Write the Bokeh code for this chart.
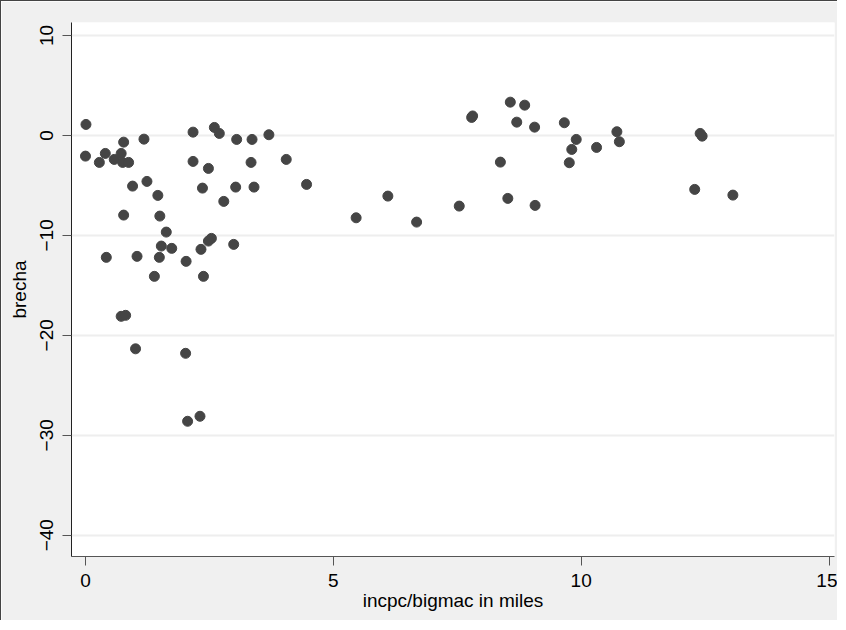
from bokeh.plotting import figure
from bokeh.models import Range1d, FixedTicker, ColumnDataSource
from bokeh.embed import file_html
from bokeh.resources import INLINE

# incpc/bigmac in miles (x) vs brecha (y)
incpc_bigmac = [0.01, 0.00, 0.28, 0.40, 0.77, 0.58, 0.72, 0.75, 0.87, 1.18,
                2.17, 2.60, 2.70, 2.17, 2.48, 0.95, 1.24, 1.46, 2.36, 0.77,
                1.50, 1.63, 1.53, 1.74, 2.54, 2.48, 2.33, 0.42, 1.04, 1.49,
                2.03, 1.39, 2.38, 0.72, 0.81, 3.05, 3.36, 3.70, 3.34, 4.05,
                3.03, 3.40, 4.46, 2.79, 2.99, 2.06, 2.31, 1.01, 2.02, 5.46,
                6.10, 6.68, 7.54, 8.37, 8.52, 7.79, 7.81, 8.57, 8.86, 8.70,
                9.06, 9.66, 9.90, 9.81, 9.76, 10.31, 10.72, 10.77, 9.07, 12.40,
                12.44, 12.29, 13.06]
brecha = [1.10, -2.07, -2.70, -1.80, -0.67, -2.40, -1.80, -2.70, -2.70, -0.37,
          0.33, 0.80, 0.20, -2.60, -3.30, -5.07, -4.60, -6.00, -5.27, -7.97,
          -8.07, -9.67, -11.07, -11.30, -10.30, -10.57, -11.40, -12.20, -12.10, -12.20,
          -12.60, -14.10, -14.10, -18.10, -18.00, -0.40, -0.40, 0.07, -2.70, -2.40,
          -5.17, -5.17, -4.90, -6.60, -10.90, -28.60, -28.10, -21.35, -21.80, -8.24,
          -6.07, -8.67, -7.07, -2.67, -6.30, 1.80, 1.95, 3.33, 3.03, 1.33,
          0.83, 1.27, -0.40, -1.40, -2.73, -1.20, 0.37, -0.63, -7.00, 0.20,
          -0.07, -5.40, -5.97]

x_ticks = [0, 5, 10, 15]
y_ticks = [-40, -30, -20, -10, 0, 10]

src = ColumnDataSource(data=dict(x=incpc_bigmac, y=brecha))

FONT = "Liberation Sans"

p = figure(width=837, height=620, output_backend="svg", toolbar_location=None,
           x_range=Range1d(-0.282, 15.11), y_range=Range1d(-42.13, 11.30),
           min_border_left=70, min_border_right=4, min_border_top=21,
           min_border_bottom=65)

p.background_fill_color = "white"
p.border_fill_color = "#f0f0f0"
p.outline_line_color = None
p.styles = {"border-top": "1px solid #444444", "border-left": "1px solid #444444"}

p.scatter("x", "y", source=src, size=10, marker="circle",
          fill_color="#454545", line_color="#454545")

p.xaxis.ticker = FixedTicker(ticks=x_ticks)
p.yaxis.ticker = FixedTicker(ticks=y_ticks)
p.xgrid.grid_line_color = None
p.ygrid.grid_line_color = "#eeeeee"
p.ygrid.grid_line_width = 2

for ax in (p.xaxis, p.yaxis):
    ax.minor_tick_line_color = None
    ax.major_tick_out = 9
    ax.major_tick_in = 0
    ax.major_tick_line_color = "#555555"
    ax.major_label_text_font = FONT
    ax.major_label_text_font_size = "19px"
    ax.major_label_text_color = "black"
    ax.axis_label_text_font = FONT
    ax.axis_label_text_font_size = "19px"
    ax.axis_label_text_font_style = "normal"
    ax.axis_label_text_color = "black"

p.xaxis.axis_line_color = "#555555"
p.yaxis.axis_line_color = "#222222"
p.xaxis.axis_label = "incpc/bigmac in miles"
p.yaxis.axis_label = "brecha"
p.yaxis.major_label_orientation = "vertical"
p.xaxis.major_label_standoff = 8
p.yaxis.major_label_standoff = 9
p.xaxis.axis_label_standoff = 0
p.yaxis.axis_label_standoff = 8

open("out.html", "w").write(file_html(p, INLINE))
